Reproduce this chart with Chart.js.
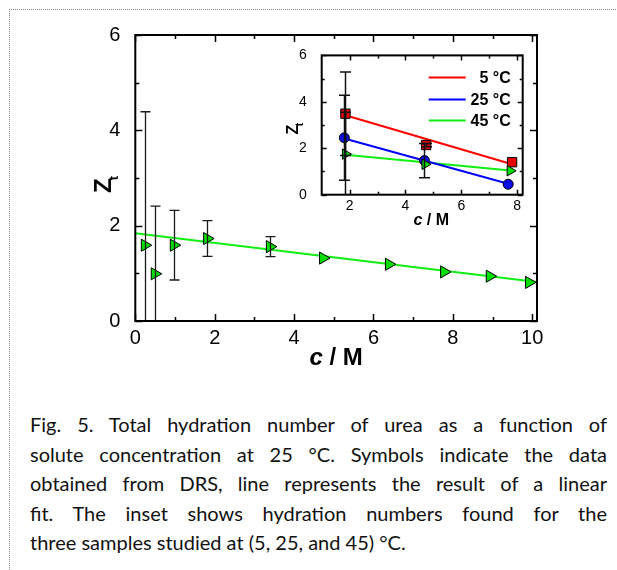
<!DOCTYPE html>
<html>
<head>
<meta charset="utf-8">
<script src="https://cdn.jsdelivr.net/npm/chart.js@4.4.1/dist/chart.umd.min.js"></script>
<style>
  html, body { margin: 0; padding: 0; background: #fff; }
  #fig { position: relative; width: 617px; height: 570px; overflow: hidden; background: #fff; }
  #frame { position: absolute; left: 9px; top: 9px; width: 640px; height: 600px;
           border-top: 1px dotted #8c8c8c; border-left: 1px dotted #8c8c8c; }
  #main { position: absolute; left: 0; top: 0; }
  #inset { position: absolute; left: 270px; top: 40px; }
  .caption { position: absolute; left: 30px; top: 410px; width: 577px;
             font-family: Lato, "Open Sans", sans-serif; font-size: 20px; line-height: 29.6px; color: #111; }
  .caption div { text-align: justify; text-align-last: justify; white-space: normal; }
  .caption div.last { text-align-last: left; }
</style>
</head>
<body>
<div id="fig">
  <div id="frame"></div>
  <canvas id="main" width="617" height="380"></canvas>
  <canvas id="inset" width="265" height="195"></canvas>
  <div class="caption">
    <div>Fig. 5. Total hydration number of urea as a function of</div>
    <div>solute concentration at 25 °C. Symbols indicate the data</div>
    <div>obtained from DRS, line represents the result of a linear</div>
    <div>fit. The inset shows hydration numbers found for the</div>
    <div class="last">three samples studied at (5, 25, and 45) °C.</div>
  </div>
</div>
<script>
// ---- main panel: Z_t of urea vs concentration at 25 °C ----
const concMain   = [0.24, 0.49, 0.97, 1.81, 3.39, 4.73, 6.39, 7.78, 8.93, 9.92];
const ztMain     = [1.59, 0.99, 1.59, 1.73, 1.56, 1.32, 1.19, 1.03, 0.94, 0.81];
const ztMainErr  = [2.80, 1.42, 0.73, 0.375, 0.21, 0, 0, 0, 0, 0];
const fitMainX   = [0, 10.12];
const fitMainY   = [1.84, 0.82];
const mainXTicks = [0, 2, 4, 6, 8, 10];
const mainXMinor = [1, 3, 5, 7, 9];
const mainYTicks = [0, 2, 4, 6];
const mainYMinor = [1, 3, 5];

// ---- inset: three temperatures ----
const insetLabels = ['5 °C', '25 °C', '45 °C'];
const conc5  = [1.85, 4.74, 7.82];
const zt5    = [3.49, 2.14, 1.40];
const err5   = [1.80, 0.07, 0];
const conc25 = [1.81, 4.68, 7.68];
const zt25   = [2.45, 1.47, 0.45];
const err25  = [1.83, 0.74, 0];
const conc45 = [1.85, 4.70, 7.75];
const zt45   = [1.75, 1.31, 1.03];
const err45  = [1.80, 0, 0];
const fit5X  = [1.85, 7.82], fit5Y  = [3.42, 1.31];
const fit25X = [1.81, 7.68], fit25Y = [2.42, 0.47];
const fit45X = [1.85, 7.75], fit45Y = [1.72, 1.04];
const insetXTicks = [2, 4, 6, 8];
const insetXMinor = [3, 5, 7];
const insetYTicks = [0, 2, 4, 6];
const insetYMinor = [1, 3, 5];

const xTitleItalic = 'c';
const xTitleRest = ' / M';
const yTitleMain = 'Z';
const yTitleSub = 't';

const FONT = "'Liberation Sans', Arial, sans-serif";
const RED = '#ff0000', RED_FILL = '#e60000';
const BLUE = '#0000ff', BLUE_FILL = '#0a0ae6';
const GREEN = '#11ee11', GREEN_FILL = '#00dd00';

Chart.defaults.font.family = FONT;
Chart.defaults.color = '#000';

const pts = (xs, ys) => xs.map((x, i) => ({ x, y: ys[i] }));

// Box frame with inward major/minor ticks on all four sides
function framePlugin(xMaj, xMin, yMaj, yMin, s) {
  return {
    id: 'frameTicks',
    afterDraw(chart) {
      const { ctx, chartArea: a } = chart;
      const xs = chart.scales.x, ys = chart.scales.y;
      ctx.save();
      ctx.strokeStyle = '#000';
      ctx.lineWidth = s.tickWidth;
      ctx.beginPath();
      const xt = (vals, len) => vals.forEach(v => {
        const p = Math.round(xs.getPixelForValue(v)) + 0.5;
        ctx.moveTo(p, a.bottom); ctx.lineTo(p, a.bottom - len);
        ctx.moveTo(p, a.top); ctx.lineTo(p, a.top + len);
      });
      const yt = (vals, len) => vals.forEach(v => {
        const p = Math.round(ys.getPixelForValue(v)) + 0.5;
        ctx.moveTo(a.left, p); ctx.lineTo(a.left + len, p);
        ctx.moveTo(a.right, p); ctx.lineTo(a.right - len, p);
      });
      xt(xMaj, s.major); xt(xMin, s.minor);
      yt(yMaj, s.major); yt(yMin, s.minor);
      ctx.stroke();
      ctx.lineWidth = s.frameWidth;
      ctx.strokeRect(a.left, a.top, a.right - a.left, a.bottom - a.top);
      ctx.restore();
    }
  };
}

// Vertical error bars with caps, clipped to the plot area
function errorBarPlugin(s) {
  return {
    id: 'errorBars',
    afterDatasetsDraw(chart) {
      const { ctx, chartArea: a } = chart;
      const xs = chart.scales.x, ys = chart.scales.y;
      ctx.save();
      ctx.beginPath();
      ctx.rect(a.left, a.top, a.right - a.left, a.bottom - a.top);
      ctx.clip();
      ctx.strokeStyle = s.color;
      ctx.lineWidth = s.width;
      chart.data.datasets.forEach(ds => {
        if (!ds.errors) return;
        ds.data.forEach((p, i) => {
          const e = ds.errors[i];
          if (!e) return;
          const x = Math.round(xs.getPixelForValue(p.x)) + 0.5;
          const y1 = ys.getPixelForValue(p.y + e);
          const y2 = ys.getPixelForValue(p.y - e);
          ctx.beginPath();
          ctx.moveTo(x, y1); ctx.lineTo(x, y2);
          ctx.moveTo(x - s.cap, y1); ctx.lineTo(x + s.cap, y1);
          ctx.moveTo(x - s.cap, y2); ctx.lineTo(x + s.cap, y2);
          ctx.stroke();
        });
      });
      ctx.restore();
    }
  };
}

// Axis titles: italic "c / M" below, rotated Z with subscript t at left
function titlePlugin(s) {
  return {
    id: 'axisTitles',
    afterDraw(chart) {
      const { ctx, chartArea: a } = chart;
      ctx.save();
      ctx.fillStyle = '#000';
      ctx.textBaseline = 'alphabetic';
      ctx.textAlign = 'left';
      const fi = `italic bold ${s.xSize}px ${FONT}`, fb = `bold ${s.xSize}px ${FONT}`;
      ctx.font = fi; const w1 = ctx.measureText(xTitleItalic).width;
      ctx.font = fb; const w2 = ctx.measureText(xTitleRest).width;
      const x0 = (a.left + a.right) / 2 + s.xShift - (w1 + w2) / 2;
      const yb = a.bottom + s.xBase;
      ctx.font = fi; ctx.fillText(xTitleItalic, x0, yb);
      ctx.font = fb; ctx.fillText(xTitleRest, x0 + w1, yb);

      ctx.translate(a.left - s.yBase, (a.top + a.bottom) / 2 + s.yShift);
      ctx.rotate(-Math.PI / 2);
      const fz = `bold ${s.zSize}px ${FONT}`, ft = `bold ${s.tSize}px ${FONT}`;
      ctx.font = fz; const wz = ctx.measureText(yTitleMain).width;
      ctx.font = ft; const wt = ctx.measureText(yTitleSub).width;
      const tot = wz + wt - s.kern;
      ctx.font = fz; ctx.fillText(yTitleMain, -tot / 2, 0);
      ctx.font = ft; ctx.fillText(yTitleSub, -tot / 2 + wz - s.kern, s.sub);
      ctx.restore();
    }
  };
}

// Legend inside the inset, drawn from the labelled fit lines
const insetLegend = {
  id: 'insetLegend',
  afterDraw(chart) {
    const { ctx, chartArea: a } = chart;
    ctx.save();
    ctx.font = `bold 16px ${FONT}`;
    ctx.textAlign = 'right';
    ctx.textBaseline = 'middle';
    ctx.fillStyle = '#000';
    chart.data.datasets.filter(d => d.label).forEach((d, i) => {
      const y = Math.round(a.top + 22 + i * 21.3) + 0.5;
      ctx.strokeStyle = d.borderColor;
      ctx.lineWidth = 2;
      ctx.beginPath();
      ctx.moveTo(a.right - 94, y);
      ctx.lineTo(a.right - 57, y);
      ctx.stroke();
      ctx.fillText(d.label, a.right - 12, y + 1);
    });
    ctx.restore();
  }
};

const fixedTicks = vals => s => { s.ticks = vals.map(v => ({ value: v })); };

new Chart(document.getElementById('main'), {
  type: 'scatter',
  data: {
    datasets: [
      { data: pts(fitMainX, fitMainY), showLine: true, borderColor: GREEN, borderWidth: 2,
        pointRadius: 0, fill: false, order: 2 },
      { data: pts(concMain, ztMain), errors: ztMainErr, showLine: false,
        pointStyle: 'triangle', pointRotation: 90, pointRadius: 7,
        pointBackgroundColor: GREEN_FILL, pointBorderColor: '#000', pointBorderWidth: 1, order: 1 }
    ]
  },
  options: {
    responsive: false, animation: false, devicePixelRatio: 1,
    layout: { padding: { left: 0, top: 35, right: 80, bottom: 0 } },
    plugins: { legend: { display: false }, tooltip: { enabled: false } },
    scales: {
      x: { type: 'linear', min: 0, max: 10.12,
           grid: { display: false }, border: { display: false },
           ticks: { padding: -3, maxRotation: 0, autoSkip: false, font: { size: 20 } },
           afterBuildTicks: fixedTicks(mainXTicks),
           afterFit: s => { s.height = 59; } },
      y: { type: 'linear', min: 0, max: 6,
           grid: { display: false }, border: { display: false },
           ticks: { padding: 7, autoSkip: false, font: { size: 20 } },
           afterBuildTicks: fixedTicks(mainYTicks),
           afterFit: s => { s.width = 135.3; } }
    }
  },
  plugins: [
    errorBarPlugin({ color: '#1a1a1a', width: 1.3, cap: 5 }),
    framePlugin(mainXTicks, mainXMinor, mainYTicks, mainYMinor,
                { major: 7, minor: 4, tickWidth: 1.5, frameWidth: 2 }),
    titlePlugin({ xSize: 24, xBase: 44, xShift: 0, zSize: 24, tSize: 13,
                  yBase: 24.3, yShift: 6.5, kern: 2, sub: 7 })
  ]
});

new Chart(document.getElementById('inset'), {
  type: 'scatter',
  data: {
    datasets: [
      { label: insetLabels[0], data: pts(fit5X, fit5Y), showLine: true, borderColor: RED,
        borderWidth: 2, pointRadius: 0, fill: false, order: 10 },
      { label: insetLabels[1], data: pts(fit25X, fit25Y), showLine: true, borderColor: BLUE,
        borderWidth: 2, pointRadius: 0, fill: false, order: 11 },
      { label: insetLabels[2], data: pts(fit45X, fit45Y), showLine: true, borderColor: GREEN,
        borderWidth: 2, pointRadius: 0, fill: false, order: 12 },
      { data: pts(conc5, zt5), errors: err5, pointStyle: 'rect', pointRadius: 6.6,
        pointBackgroundColor: RED_FILL, pointBorderColor: '#000', pointBorderWidth: 1, order: 3 },
      { data: pts(conc25, zt25), errors: err25, pointStyle: 'circle', pointRadius: 5,
        pointBackgroundColor: BLUE_FILL, pointBorderColor: '#000', pointBorderWidth: 1, order: 2 },
      { data: pts(conc45, zt45), errors: err45, pointStyle: 'triangle', pointRotation: 90,
        pointRadius: 6, pointBackgroundColor: GREEN_FILL, pointBorderColor: '#000',
        pointBorderWidth: 1, order: 1 }
    ]
  },
  options: {
    responsive: false, animation: false, devicePixelRatio: 1,
    layout: { padding: { left: 0, top: 10.7, right: 12.3, bottom: 0 } },
    plugins: { legend: { display: false }, tooltip: { enabled: false } },
    scales: {
      x: { type: 'linear', min: 1, max: 8.2,
           grid: { display: false }, border: { display: false },
           ticks: { padding: -4.5, maxRotation: 0, autoSkip: false, font: { size: 14 } },
           afterBuildTicks: fixedTicks(insetXTicks),
           afterFit: s => { s.height = 40.3; } },
      y: { type: 'linear', min: 0, max: 6,
           grid: { display: false }, border: { display: false },
           ticks: { padding: 7, autoSkip: false, font: { size: 14 } },
           afterBuildTicks: fixedTicks(insetYTicks),
           afterFit: s => { s.width = 51.7; } }
    }
  },
  plugins: [
    errorBarPlugin({ color: '#111', width: 1.5, cap: 5.5 }),
    framePlugin(insetXTicks, insetXMinor, insetYTicks, insetYMinor,
                { major: 5, minor: 3, tickWidth: 1.5, frameWidth: 2 }),
    titlePlugin({ xSize: 16, xBase: 30, xShift: 9, zSize: 16, tSize: 10,
                  yBase: 23.7, yShift: 3.6, kern: 1.5, sub: 5 }),
    insetLegend
  ]
});
</script>
</body>
</html>
